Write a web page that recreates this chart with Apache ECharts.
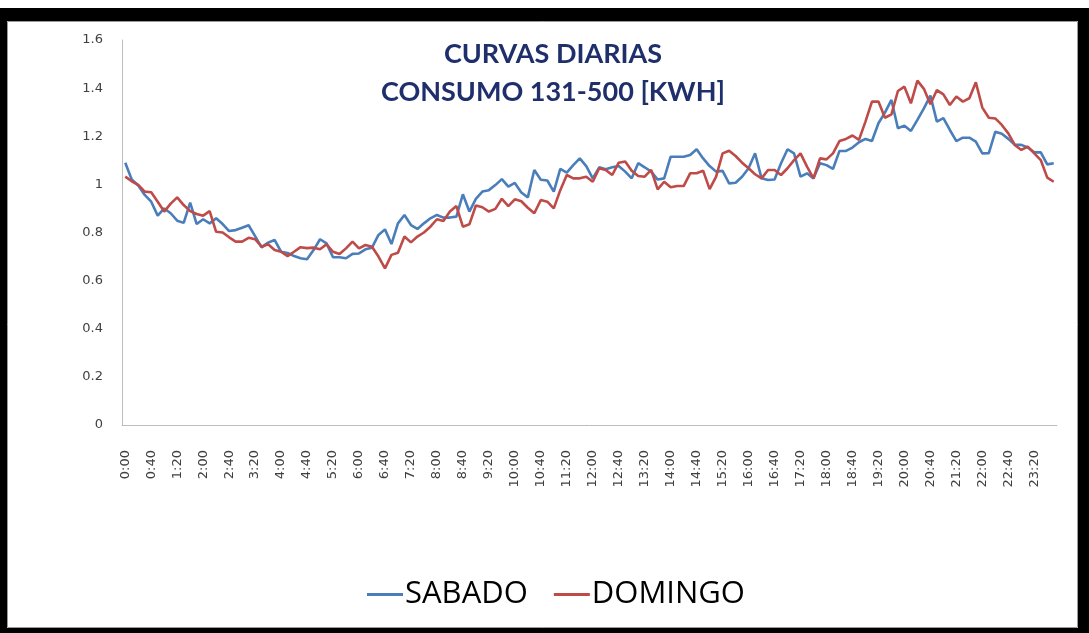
<!DOCTYPE html>
<html>
<head>
<meta charset="utf-8">
<title>Curvas diarias</title>
<script src="https://cdn.jsdelivr.net/npm/echarts@6/dist/echarts.min.js"></script>
<style>
  html, body { margin: 0; padding: 0; background: #fff; }
  #chart { width: 1089px; height: 633px; }
</style>
</head>
<body>
<div id="chart"></div>
<script>
// horas cada 10 minutos, 0:00 .. 23:50
var horas = [];
for (var h = 0; h < 24; h++) {
  for (var m = 0; m < 60; m += 10) {
    horas.push(h + ':' + (m === 0 ? '00' : m));
  }
}

var sabado = [
  1.09, 1.02, 0.995, 0.956, 0.928, 0.87,
  0.90, 0.88, 0.849, 0.84, 0.924, 0.835,
  0.855, 0.838, 0.859, 0.835, 0.806, 0.81,
  0.82, 0.83, 0.785, 0.738, 0.758, 0.769,
  0.72, 0.715, 0.702, 0.693, 0.689, 0.727,
  0.772, 0.755, 0.697, 0.697, 0.693, 0.711,
  0.713, 0.73, 0.737, 0.79, 0.813, 0.752,
  0.838, 0.873, 0.831, 0.815, 0.838, 0.859,
  0.873, 0.862, 0.862, 0.866, 0.959, 0.887,
  0.94, 0.97, 0.976, 0.997, 1.022, 0.991,
  1.006, 0.966, 0.946, 1.06, 1.019, 1.016,
  0.97, 1.064, 1.049, 1.08, 1.108, 1.076,
  1.025, 1.071, 1.063, 1.071, 1.076, 1.053,
  1.025, 1.088, 1.071, 1.053, 1.02, 1.025,
  1.115, 1.115, 1.115, 1.122, 1.146, 1.108,
  1.076, 1.053, 1.056, 1.004, 1.007, 1.032,
  1.067, 1.129, 1.025, 1.018, 1.02, 1.088,
  1.146, 1.129, 1.032, 1.046, 1.025, 1.088,
  1.08, 1.064, 1.139, 1.139, 1.153, 1.175,
  1.189, 1.18, 1.254, 1.298, 1.351, 1.233,
  1.244, 1.222, 1.268, 1.316, 1.369, 1.261,
  1.275, 1.226, 1.18, 1.194, 1.194, 1.178,
  1.129, 1.13, 1.219, 1.21, 1.189, 1.164,
  1.164, 1.153, 1.133, 1.133, 1.083, 1.088
];

var domingo = [
  1.032, 1.013, 0.998, 0.97, 0.967, 0.928,
  0.887, 0.92, 0.946, 0.914, 0.889, 0.877,
  0.87, 0.889, 0.803, 0.80, 0.78, 0.762,
  0.762, 0.778, 0.772, 0.741, 0.751, 0.727,
  0.72, 0.702, 0.72, 0.739, 0.735, 0.737,
  0.73, 0.751, 0.72, 0.711, 0.734, 0.762,
  0.734, 0.748, 0.741, 0.70, 0.651, 0.707,
  0.716, 0.783, 0.759, 0.783, 0.80, 0.824,
  0.855, 0.848, 0.887, 0.91, 0.824, 0.834,
  0.912, 0.905, 0.887, 0.898, 0.94, 0.91,
  0.938, 0.93, 0.903, 0.88, 0.935, 0.928,
  0.90, 0.976, 1.039, 1.025, 1.025, 1.032,
  1.011, 1.067, 1.06, 1.039, 1.09, 1.095,
  1.057, 1.035, 1.032, 1.06, 0.979, 1.011,
  0.988, 0.993, 0.993, 1.046, 1.046, 1.057,
  0.98, 1.032, 1.129, 1.14, 1.118, 1.09,
  1.067, 1.042, 1.025, 1.06, 1.06, 1.039,
  1.067, 1.101, 1.129, 1.074, 1.025, 1.108,
  1.104, 1.129, 1.18, 1.189, 1.203, 1.185,
  1.261, 1.344, 1.344, 1.277, 1.291, 1.388,
  1.406, 1.337, 1.431, 1.397, 1.333, 1.392,
  1.374, 1.33, 1.365, 1.344, 1.358, 1.424,
  1.319, 1.277, 1.274, 1.247, 1.212, 1.164,
  1.143, 1.157, 1.129, 1.101, 1.028, 1.011
];

var chart = echarts.init(document.getElementById('chart'));

var option = {
  backgroundColor: '#fff',
  animation: false,
  title: {
    text: 'CURVAS DIARIAS\nCONSUMO 131-500 [KWH]',
    left: 548,
    top: 30,
    textAlign: 'center',
    textStyle: {
      fontFamily: 'Lato',
      fontWeight: 'bold',
      fontSize: 27,
      lineHeight: 38,
      color: '#1F2F6B'
    }
  },
  legend: {
    data: [
      { name: 'SABADO', icon: 'rect' },
      { name: 'DOMINGO', icon: 'rect' }
    ],
    left: 362,
    top: 574,
    itemWidth: 36,
    itemHeight: 3,
    itemGap: 26,
    textStyle: {
      fontFamily: 'Open Sans',
      fontSize: 31,
      color: '#000',
      padding: [0, 0, 0, -3]
    }
  },
  grid: {
    left: 122,
    right: 32,
    top: 40,
    bottom: 208,
    containLabel: false
  },
  xAxis: {
    type: 'category',
    data: horas,
    boundaryGap: true,
    axisLine: { lineStyle: { color: '#BDBDBD', width: 1 } },
    axisTick: { show: false },
    axisLabel: {
      interval: 3,
      rotate: 90,
      margin: 25,
      fontFamily: 'DejaVu Sans',
      fontSize: 13,
      color: '#404040'
    }
  },
  yAxis: {
    type: 'value',
    min: 0,
    max: 1.6,
    interval: 0.2,
    axisLine: { show: true, lineStyle: { color: '#BDBDBD', width: 1 } },
    axisTick: { show: false },
    splitLine: { show: false },
    axisLabel: {
      margin: 19,
      fontFamily: 'DejaVu Sans',
      fontSize: 13,
      color: '#404040'
    }
  },
  series: [
    {
      name: 'SABADO',
      type: 'line',
      data: sabado,
      symbol: 'none',
      color: '#4A7EBB',
      lineStyle: { width: 2.6, color: '#4A7EBB' }
    },
    {
      name: 'DOMINGO',
      type: 'line',
      data: domingo,
      symbol: 'none',
      color: '#BE4B48',
      lineStyle: { width: 2.6, color: '#BE4B48' }
    }
  ],
  // marco negro de la captura
  graphic: [
    { type: 'rect', shape: { x: 0, y: 8, width: 1089, height: 13 }, style: { fill: '#000' }, silent: true },
    { type: 'rect', shape: { x: 0, y: 8, width: 7, height: 625 }, style: { fill: '#000' }, silent: true },
    { type: 'rect', shape: { x: 1078, y: 8, width: 11, height: 625 }, style: { fill: '#000' }, silent: true },
    { type: 'rect', shape: { x: 0, y: 628, width: 1089, height: 5 }, style: { fill: '#000' }, silent: true },
    { type: 'rect', shape: { x: 7.5, y: 21.5, width: 1070, height: 606 }, style: { fill: 'none', stroke: '#9A9A9A', lineWidth: 1 }, silent: true }
  ]
};

chart.setOption(option);
</script>
</body>
</html>
